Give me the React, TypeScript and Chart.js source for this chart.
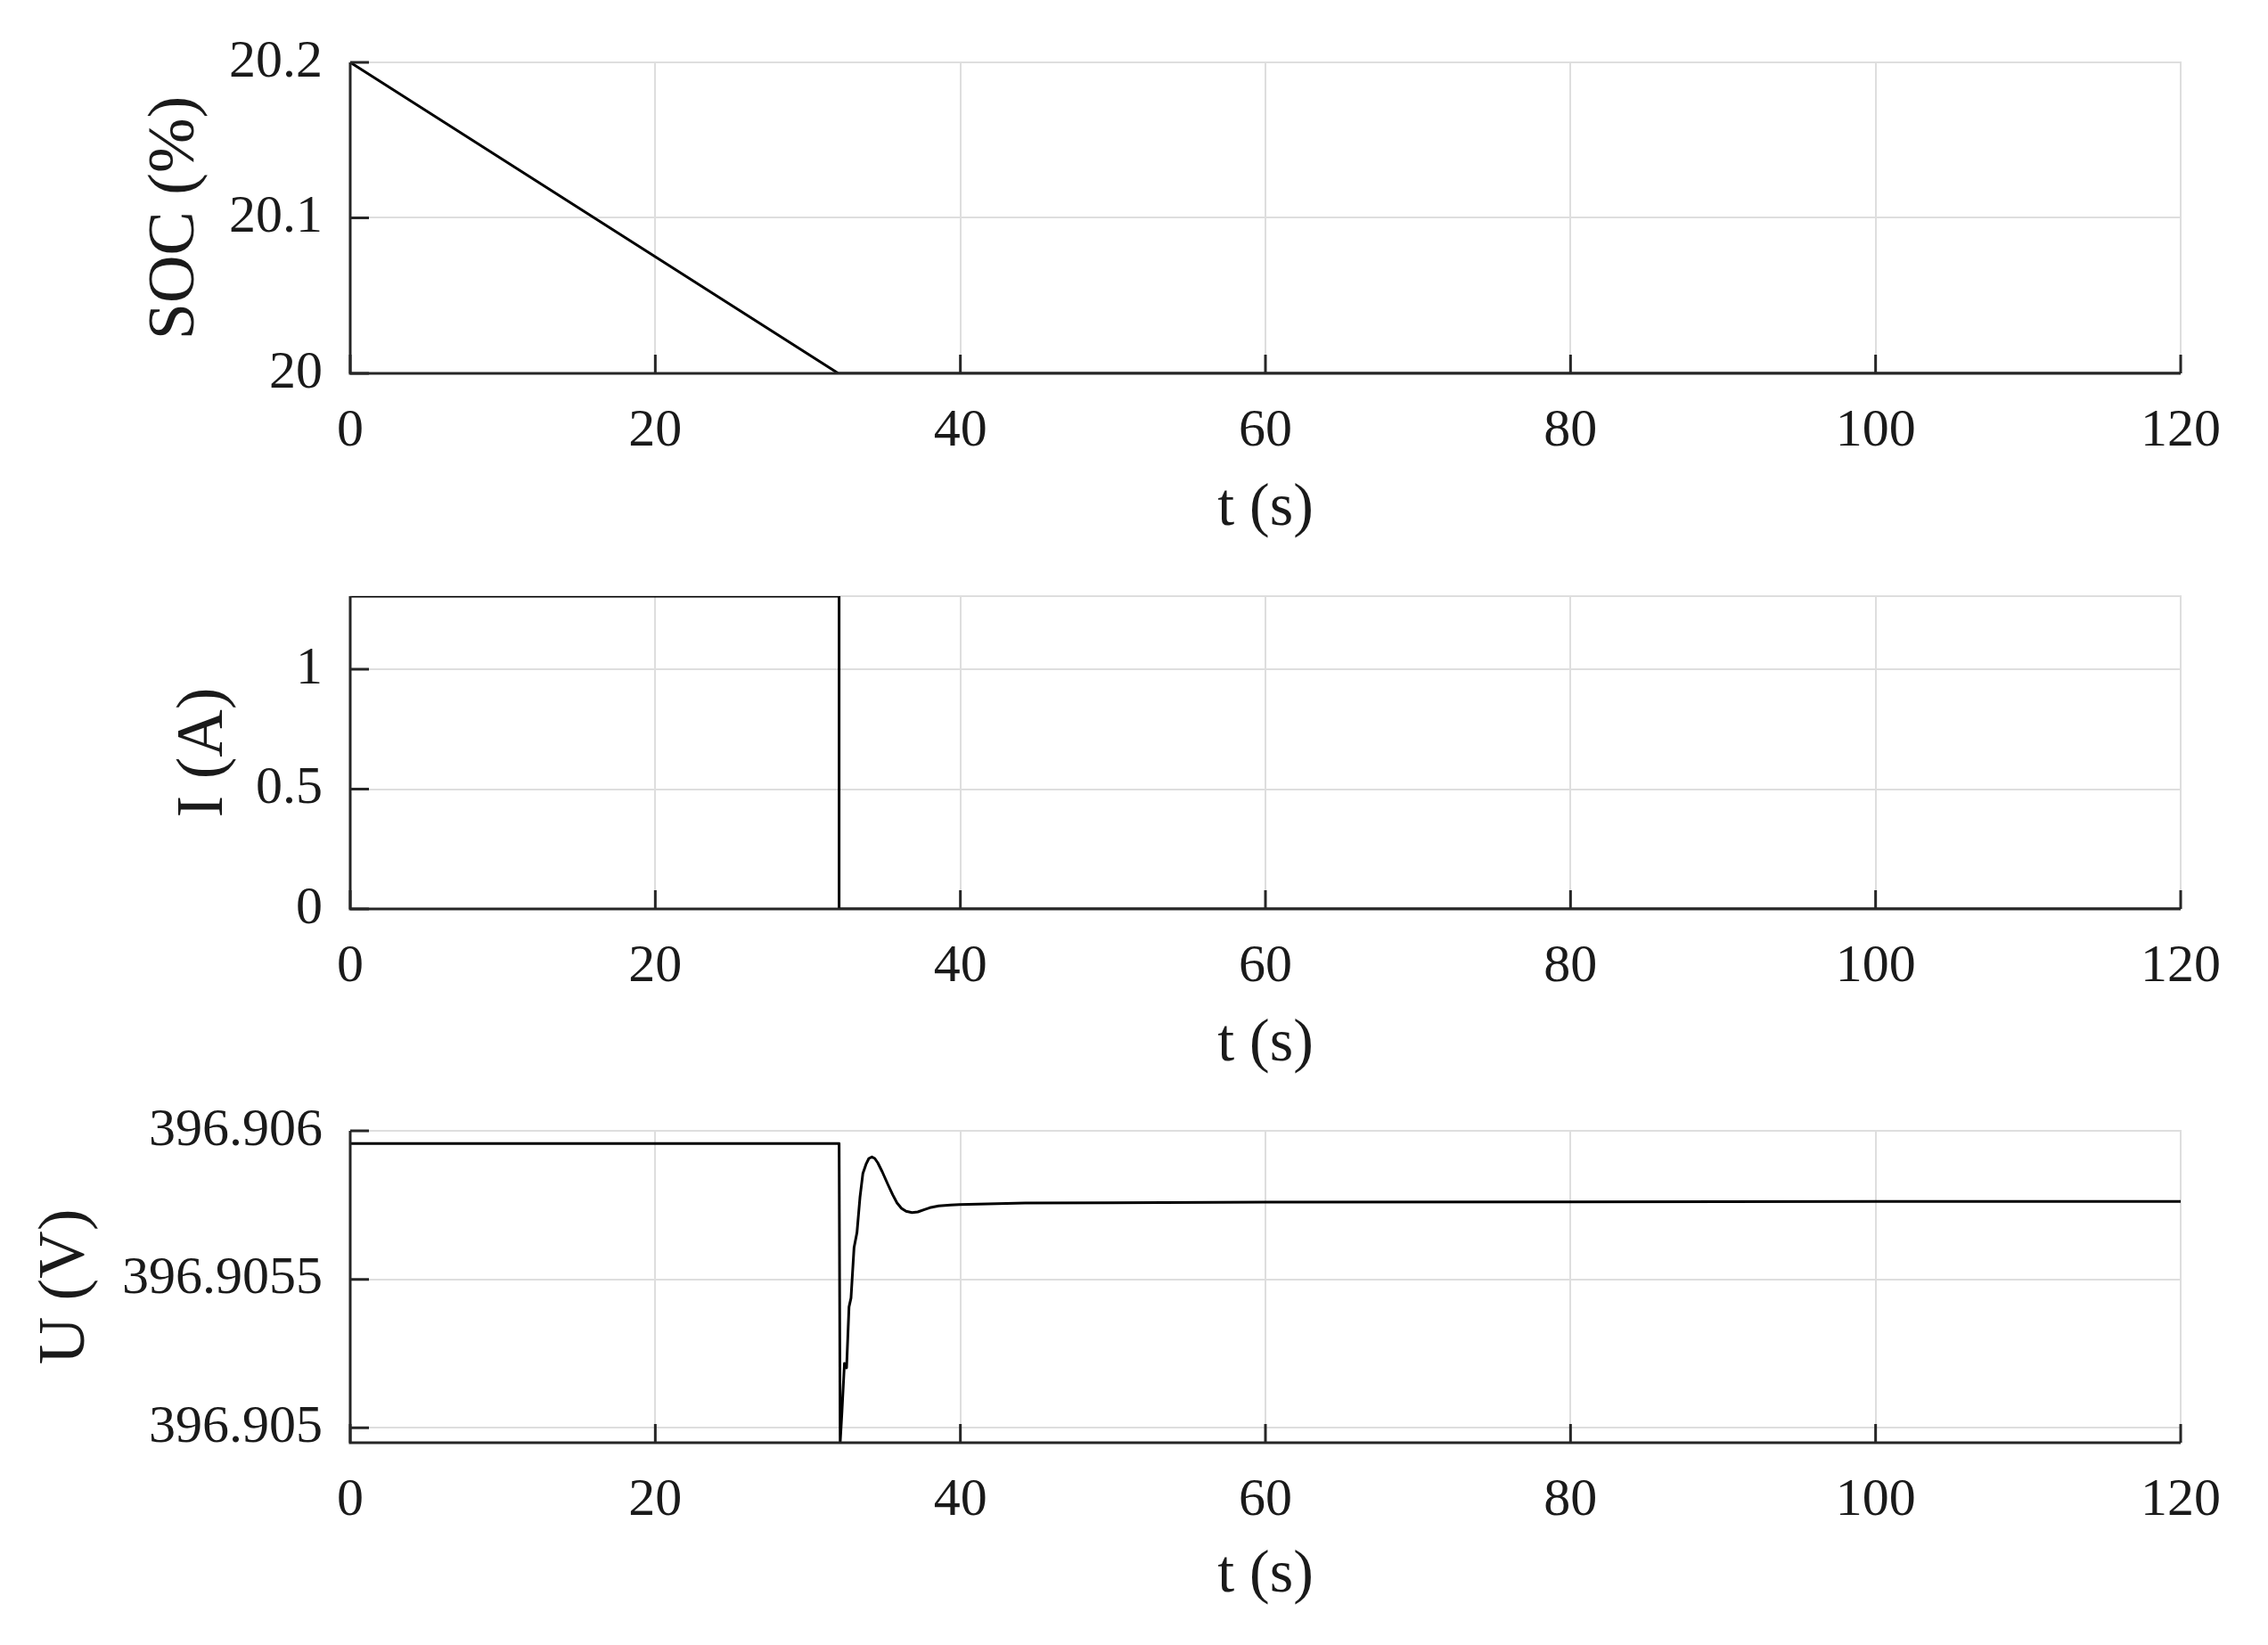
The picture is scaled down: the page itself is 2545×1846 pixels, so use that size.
import React, { useEffect, useRef } from "react";
import { Chart, registerables } from "chart.js";

Chart.register(...registerables);

// ---------- data ----------
const X_TICKS = [0, 20, 40, 60, 80, 100, 120];
const X_TICK_LABELS = ["0", "20", "40", "60", "80", "100", "120"];
const X_TITLE = "t (s)";
const X_RANGE = [0, 120];

const SOC_T = [0, 32, 120];
const SOC_V = [20.2, 20, 20];
const SOC_TICKS = [20, 20.1, 20.2];
const SOC_TICK_LABELS = ["20", "20.1", "20.2"];
const SOC_RANGE = [20, 20.2];
const SOC_TITLE = "SOC (%)";

const I_T = [0, 32.05, 32.05, 120];
const I_V = [1.305, 1.305, 0, 0];
const I_TICKS = [0, 0.5, 1];
const I_TICK_LABELS = ["0", "0.5", "1"];
const I_RANGE = [0, 1.305];
const I_TITLE = "I (A)";

const U_T = [
  0, 32.05, 32.12, 32.24, 32.4, 32.54, 32.7, 32.83, 33.03, 33.22,
  33.42, 33.61, 33.81, 34.0, 34.2, 34.39, 34.59, 34.88, 35.27, 35.56,
  35.85, 36.14, 36.44, 36.83, 37.21, 37.6, 37.99, 38.58, 39.36, 39.94,
  44.23, 50, 60, 80, 100, 120,
];
const U_V = [
  396.905957, 396.905957, 396.90495, 396.905057, 396.905217, 396.905202, 396.905407, 396.905437, 396.905607, 396.905657,
  396.905777, 396.905857, 396.905887, 396.905907, 396.905912, 396.905907, 396.905892, 396.905862, 396.905817, 396.905785,
  396.905757, 396.905739, 396.905729, 396.905725, 396.905727, 396.905734, 396.905741, 396.905747, 396.90575, 396.905752,
  396.905757, 396.905758, 396.90576, 396.905761, 396.905762, 396.905762,
];
const U_TICKS = [396.905, 396.9055, 396.906];
const U_TICK_LABELS = ["396.905", "396.9055", "396.906"];
const U_RANGE = [396.90495, 396.906];
const U_TITLE = "U (V)";

// ---------- style / layout ----------
const FONT = "'Liberation Serif', 'Times New Roman', serif";
const TEXT = "#1a1a1a";
const GRID = "#dedede";
const AXIS = "#262626";
const W = 2545;
const PLOT_LEFT = 393;
const PLOT_RIGHT_PAD = 98;
const TICK_LEN = 21;

const axesPlugin = {
  id: "matlabAxes",
  beforeDatasetsDraw(chart: any) {
    const { ctx, chartArea: a } = chart;
    ctx.save();
    ctx.strokeStyle = GRID;
    ctx.lineWidth = 2;
    ctx.beginPath();
    ctx.moveTo(a.left, a.top);
    ctx.lineTo(a.right, a.top);
    ctx.lineTo(a.right, a.bottom);
    ctx.stroke();
    ctx.restore();
  },
  afterDatasetsDraw(chart: any) {
    const { ctx, chartArea: a, scales } = chart;
    ctx.save();
    ctx.strokeStyle = AXIS;
    ctx.lineWidth = 3;
    ctx.lineCap = "butt";
    ctx.beginPath();
    ctx.moveTo(a.left, a.top);
    ctx.lineTo(a.left, a.bottom);
    ctx.lineTo(a.right, a.bottom);
    ctx.stroke();
    ctx.beginPath();
    for (const t of scales.x.ticks) {
      const px = scales.x.getPixelForValue(t.value);
      ctx.moveTo(px, a.bottom);
      ctx.lineTo(px, a.bottom - TICK_LEN);
    }
    for (const t of scales.y.ticks) {
      const py = scales.y.getPixelForValue(t.value);
      ctx.moveTo(a.left, py);
      ctx.lineTo(a.left + TICK_LEN, py);
    }
    ctx.stroke();
    ctx.restore();
  },
};

type PanelCfg = {
  t: number[];
  v: number[];
  yTicks: number[];
  yTickLabels: string[];
  yRange: number[];
  yTitle: string;
  height: number;
  plotTop: number;
  plotBottom: number;
  yTitlePad: number;
  xTitlePad: number;
};

function makeChart(canvas: HTMLCanvasElement, cfg: PanelCfg) {
  return new Chart(canvas, {
    type: "line",
    data: {
      datasets: [
        {
          data: cfg.t.map((t, i) => ({ x: t, y: cfg.v[i] })),
          borderColor: "#000",
          borderWidth: 3,
          pointRadius: 0,
          tension: 0,
          fill: false,
          borderJoinStyle: "round",
        },
      ],
    },
    options: {
      animation: false,
      responsive: false,
      layout: { padding: { top: cfg.plotTop, right: PLOT_RIGHT_PAD, bottom: 0, left: 0 } },
      plugins: { legend: { display: false }, tooltip: { enabled: false } },
      scales: {
        x: {
          type: "linear",
          min: X_RANGE[0],
          max: X_RANGE[1],
          afterBuildTicks: (s: any) => {
            s.ticks = X_TICKS.map((v) => ({ value: v }));
          },
          afterFit: (s: any) => {
            s.height = cfg.height - cfg.plotBottom;
          },
          grid: { color: GRID, lineWidth: 2, drawTicks: false },
          border: { display: false },
          ticks: {
            padding: 29,
            autoSkip: false,
            maxRotation: 0,
            color: TEXT,
            font: { family: FONT, size: 60 },
            callback: (_v: any, i: number) => X_TICK_LABELS[i],
          },
          title: {
            display: true,
            text: X_TITLE,
            color: TEXT,
            font: { family: FONT, size: 68 },
            padding: { top: 0, bottom: cfg.xTitlePad },
          },
        },
        y: {
          type: "linear",
          min: cfg.yRange[0],
          max: cfg.yRange[1],
          afterBuildTicks: (s: any) => {
            s.ticks = cfg.yTicks.map((v) => ({ value: v }));
          },
          afterFit: (s: any) => {
            s.width = PLOT_LEFT;
          },
          grid: {
            color: GRID,
            lineWidth: 2,
            drawTicks: true,
            tickLength: 31,
            tickColor: "rgba(0,0,0,0)",
          },
          border: { display: false },
          ticks: {
            padding: 0,
            autoSkip: false,
            color: TEXT,
            font: { family: FONT, size: 60 },
            callback: (_v: any, i: number) => cfg.yTickLabels[i],
          },
          title: {
            display: true,
            text: cfg.yTitle,
            color: TEXT,
            font: { family: FONT, size: 74 },
            padding: { top: cfg.yTitlePad, bottom: 0 },
          },
        },
      },
    } as any,
    plugins: [axesPlugin],
  });
}

const PANELS: { top: number; cfg: PanelCfg }[] = [
  {
    top: 0,
    cfg: {
      t: SOC_T, v: SOC_V, yTicks: SOC_TICKS, yTickLabels: SOC_TICK_LABELS, yRange: SOC_RANGE, yTitle: SOC_TITLE,
      height: 620, plotTop: 70, plotBottom: 419, yTitlePad: 153, xTitlePad: 8,
    },
  },
  {
    top: 620,
    cfg: {
      t: I_T, v: I_V, yTicks: I_TICKS, yTickLabels: I_TICK_LABELS, yRange: I_RANGE, yTitle: I_TITLE,
      height: 600, plotTop: 49, plotBottom: 400, yTitlePad: 185, xTitlePad: 7,
    },
  },
  {
    top: 1220,
    cfg: {
      t: U_T, v: U_V, yTicks: U_TICKS, yTickLabels: U_TICK_LABELS, yRange: U_RANGE, yTitle: U_TITLE,
      height: 626, plotTop: 49, plotBottom: 399, yTitlePad: 30, xTitlePad: 37,
    },
  },
];

export default function App() {
  const r0 = useRef<HTMLCanvasElement>(null);
  const r1 = useRef<HTMLCanvasElement>(null);
  const r2 = useRef<HTMLCanvasElement>(null);
  const refs = [r0, r1, r2];

  useEffect(() => {
    const charts = PANELS.map((p, i) => makeChart(refs[i].current as HTMLCanvasElement, p.cfg));
    return () => charts.forEach((c) => c.destroy());
  }, []);

  return (
    <div style={{ position: "absolute", left: 0, top: 0, width: W, height: 1846, background: "#fff", overflow: "hidden" }}>
      {PANELS.map((p, i) => (
        <canvas
          key={i}
          ref={refs[i]}
          width={W}
          height={p.cfg.height}
          style={{ position: "absolute", left: 0, top: p.top, width: W, height: p.cfg.height, display: "block" }}
        />
      ))}
    </div>
  );
}
